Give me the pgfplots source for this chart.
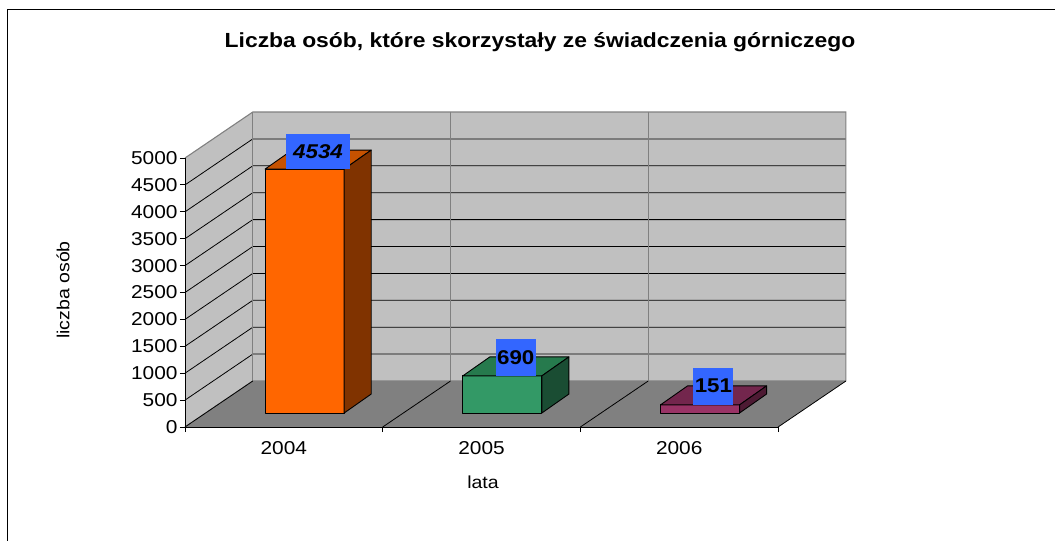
\documentclass[border=0pt]{standalone}
\usepackage{fontspec}
\setmainfont{Liberation Sans}[FakeStretch=1.12]
\usepackage{pgfplots}
\usepackage{pgfplotstable}
\pgfplotsset{compat=1.18}

\definecolor{wallgray}{HTML}{C0C0C0}
\definecolor{floorgray}{HTML}{808080}
\definecolor{labelblue}{HTML}{3366FF}
\definecolor{orF}{HTML}{FF6600}\definecolor{orT}{HTML}{C65200}\definecolor{orS}{HTML}{803300}
\definecolor{grF}{HTML}{339966}\definecolor{grT}{HTML}{267A4D}\definecolor{grS}{HTML}{1A4D33}
\definecolor{puF}{HTML}{993366}\definecolor{puT}{HTML}{73264D}\definecolor{puS}{HTML}{4D1A33}

\pgfplotstableread{
year value
2004 4534
2005 690
2006 151
}\datatable

\tikzset{
  labA/.style={fill=labelblue, font=\fontsize{20}{23}\selectfont\bfseries\itshape, minimum width=64bp, minimum height=35bp, inner sep=0pt, anchor=south},
  labB/.style={fill=labelblue, font=\fontsize{20}{23}\selectfont\bfseries, minimum width=40bp, minimum height=37bp, inner sep=0pt, anchor=south},
}

% #1 category index, #2 value, #3 front, #4 top, #5 side, #6 label style
\newcommand\barthreed[6]{%
  \pgfmathsetmacro\xl{#1+0.405}%
  \pgfmathsetmacro\xr{#1+0.805}%
  \pgfmathsetmacro\xlb{#1+0.542}%
  \pgfmathsetmacro\xrb{#1+0.942}%
  \pgfmathsetmacro\xc{#1+0.673}%
  \pgfmathsetmacro\yt{260+#2}%
  \pgfmathsetmacro\ytb{613+#2}%
  \edef\doit{%
    \noexpand\fill[#3,draw=black,line width=0.9pt,line join=round] (axis cs:\xl,260) rectangle (axis cs:\xr,\yt);
    \noexpand\fill[#4,draw=black,line width=0.9pt,line join=round] (axis cs:\xl,\yt) -- (axis cs:\xr,\yt) -- (axis cs:\xrb,\ytb) -- (axis cs:\xlb,\ytb) -- cycle;
    \noexpand\fill[#5,draw=black,line width=0.9pt,line join=round] (axis cs:\xr,260) -- (axis cs:\xr,\yt) -- (axis cs:\xrb,\ytb) -- (axis cs:\xrb,613) -- cycle;
    \noexpand\node[#6] at (axis cs:\xc,\yt) {#2};
  }\doit
}

\begin{document}
\begin{tikzpicture}
\useasboundingbox (-185bp,-114bp) rectangle (870bp,427bp);
% outer frame (top and left edges)
\draw[line width=1bp] (-177bp,-114bp) -- (-177bp,417bp) -- (870bp,417bp);
% title and axis titles
\node[font=\fontsize{20.5}{24}\selectfont\bfseries] at (355bp,385bp) {Liczba osób, które skorzystały ze świadczenia górniczego};
\node[font=\fontsize{17.5}{20}\selectfont] at (298bp,-55bp) {lata};
\node[font=\fontsize{17.5}{20}\selectfont, rotate=90] at (-122bp,137bp) {liczba osób};
% 3D walls and floor
\begin{scope}[x=197.7bp, y=0.0538bp]
  \fill[wallgray] (0,0) -- (0,5000) -- (0.343,5855) -- (0.343,855) -- cycle;
  \fill[wallgray] (0.343,855) rectangle (3.343,5855);
  \fill[floorgray] (0,0) -- (3,0) -- (3.343,855) -- (0.343,855) -- cycle;
  \foreach \v in {500,1000,...,4500} {
    \draw[black, line width=0.8pt] (0,\v) -- (0.343,{\v+855}) -- (3.343,{\v+855});
  }
  \draw[floorgray, line width=1.1pt] (0,5000) -- (0.343,5855) -- (3.343,5855) -- (3.343,855);
  \draw[floorgray, line width=1.1pt] (0,0) -- (0.343,855) -- (3.343,855);
  \draw[floorgray, line width=1.1pt] (0.343,855) -- (0.343,5855);
  \draw[floorgray, line width=1.1pt] (1.343,855) -- (1.343,5855);
  \draw[floorgray, line width=1.1pt] (2.343,855) -- (2.343,5855);
  \draw[black, line width=0.8pt] (0,0) -- (0.343,855);
  \draw[black, line width=0.8pt] (1,0) -- (1.343,855);
  \draw[black, line width=0.8pt] (2,0) -- (2.343,855);
  \draw[black, line width=0.8pt] (3,0) -- (3.343,855);
\end{scope}
\begin{axis}[
  at={(0,0)}, anchor=south west,
  scale only axis, width=593.1bp, height=269bp,
  xmin=0, xmax=3, ymin=0, ymax=5000,
  axis x line*=bottom, axis y line*=left,
  axis line style={black, line width=0.9pt},
  tick align=outside, major tick length=5bp,
  tick style={black, line width=0.9pt},
  xtick={0,1,2,3}, xticklabels={},
  extra x ticks={0.5,1.5,2.5},
  extra x tick labels={2004,2005,2006},
  extra x tick style={major tick length=0pt},
  ytick={0,500,...,5000},
  /pgf/number format/assume math mode=true,
  /pgf/number format/1000 sep={},
  ticklabel style={font=\fontsize{18.7}{21}\selectfont},
  xticklabel style={yshift=-11bp},
  yticklabel style={xshift=1bp},
  clip=false,
]
\pgfplotstablegetelem{0}{value}\of\datatable
\barthreed{0}{\pgfplotsretval}{orF}{orT}{orS}{labA}
\pgfplotstablegetelem{1}{value}\of\datatable
\barthreed{1}{\pgfplotsretval}{grF}{grT}{grS}{labB}
\pgfplotstablegetelem{2}{value}\of\datatable
\barthreed{2}{\pgfplotsretval}{puF}{puT}{puS}{labB}
\end{axis}
\end{tikzpicture}
\end{document}
